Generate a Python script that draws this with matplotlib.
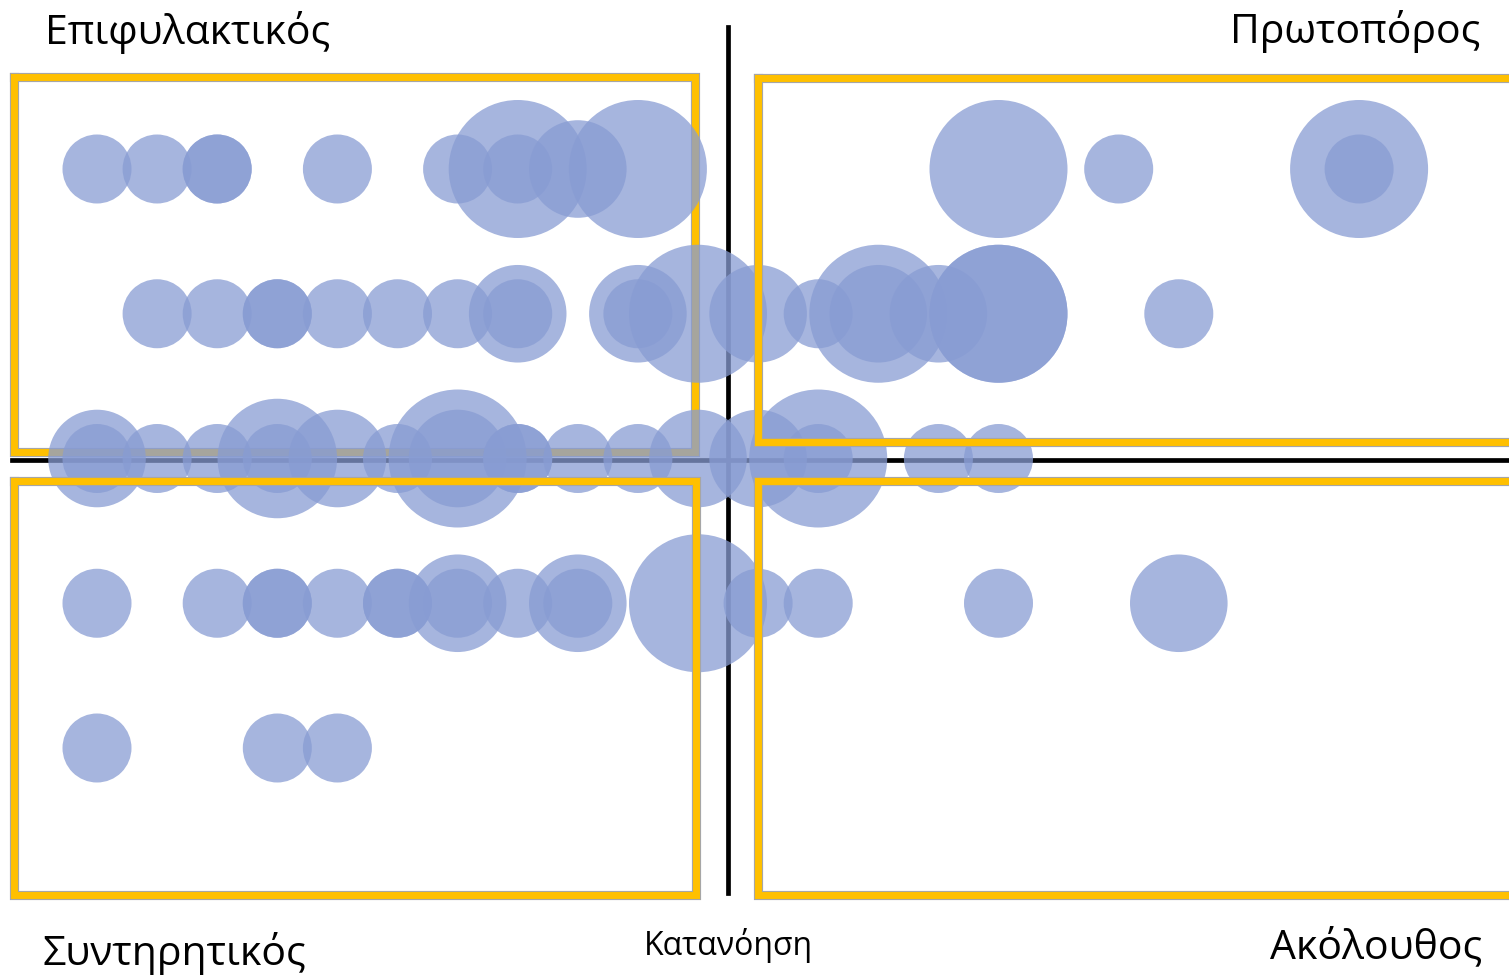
import matplotlib
matplotlib.use("Agg")
import matplotlib.pyplot as plt
from matplotlib.transforms import Affine2D

# ---------------- data ----------------
# bubble column index (Κατανόηση axis, 1..22), row (1..5), size (count)
bx = [1, 2, 3, 3, 5, 7, 8, 8, 9, 10, 16, 18, 22, 22,
      2, 3, 4, 4, 5, 6, 7, 8, 8, 10, 10, 11, 12, 13, 14, 14, 15, 16, 16, 19,
      1, 1, 2, 3, 4, 4, 5, 6, 7, 7, 8, 8, 9, 10, 11, 12, 13, 13, 15, 16,
      1, 3, 4, 4, 5, 6, 6, 7, 7, 8, 9, 9, 11, 12, 13, 16, 19,
      1, 4, 5]
by = [5] * 14 + [4] * 20 + [3] * 20 + [2] * 17 + [1] * 3
bs = [1, 1, 1, 1, 1, 1, 4, 1, 2, 4, 4, 1, 4, 1,
      1, 1, 1, 1, 1, 1, 1, 2, 1, 2, 1, 4, 2, 1, 4, 2, 2, 4, 4, 1,
      2, 1, 1, 1, 3, 1, 2, 1, 4, 2, 1, 1, 1, 1, 2, 2, 4, 1, 1, 1,
      1, 1, 1, 1, 1, 1, 1, 2, 1, 1, 2, 1, 4, 1, 1, 1, 2,
      1, 1, 1]

quadrant_labels = ["Επιφυλακτικός", "Πρωτοπόρος", "Συντηρητικός", "Ακόλουθος"]
axis_label = "Κατανόηση"
x_split = 11.5
y_split = 3

# ---------------- figure ----------------
W, H = 1509, 977
fig = plt.figure(figsize=(W / 100, H / 100), dpi=100)
ax = fig.add_axes([0, 0, 1, 1])
ax.set_axis_off()

x0px, dxpx = 97.0, 60.1
y0px, dypx = 748.0, 144.75
ax.set_xlim(1 - x0px / dxpx, 1 + (W - x0px) / dxpx)
ax.set_ylim(1 - (H - y0px) / dypx, 1 + y0px / dypx)

px = Affine2D().scale(1.0 / W, -1.0 / H).translate(0, 1) + fig.transFigure

YEL = "#FFC000"
GRY = "#A6A6A6"


def rect(x1, y1, x2, y2, z):
    xs = [x1, x2, x2, x1, x1]
    ys = [y1, y1, y2, y2, y1]
    ax.plot(xs, ys, color=GRY, lw=6.6, transform=px, zorder=z,
            solid_joinstyle="miter", clip_on=False)
    ax.plot(xs, ys, color=YEL, lw=5.0, transform=px, zorder=z + 0.1,
            solid_joinstyle="miter", clip_on=False)


# top-left rectangle beneath bubbles
rect(14, 77, 695, 452, 1)
# axis cross lines (beneath bubbles)
ax.plot([728, 728], [27, 893], color="black", lw=3.4, transform=px, zorder=1.5)
ax.plot([12, 1512], [460, 460], color="black", lw=3.4, transform=px, zorder=1.5)

# bubbles
rmax_px = 69.0
k = (1.44 * rmax_px) ** 2 / max(bs)
ax.scatter(bx, by, s=[k * v for v in bs], color="#889CD3", alpha=0.75,
           linewidths=0, zorder=2)

# other rectangles above bubbles
rect(14, 481, 696, 895, 3)
rect(758, 78, 1515, 442, 3)
rect(758, 481, 1515, 895, 3)

fs = 29.5
ax.text(45, 44, quadrant_labels[0], transform=px, fontsize=fs,
        family="Open Sans", ha="left", va="baseline")
ax.text(1480, 43, quadrant_labels[1], transform=px, fontsize=fs,
        family="Open Sans", ha="right", va="baseline")
ax.text(43, 965, quadrant_labels[2], transform=px, fontsize=fs,
        family="Open Sans", ha="left", va="baseline")
ax.text(1482, 958, quadrant_labels[3], transform=px, fontsize=fs,
        family="Open Sans", ha="right", va="baseline")
ax.text(728, 955, axis_label, transform=px, fontsize=23,
        family="Open Sans", ha="center", va="baseline")

fig.savefig("out.png", dpi=100)
